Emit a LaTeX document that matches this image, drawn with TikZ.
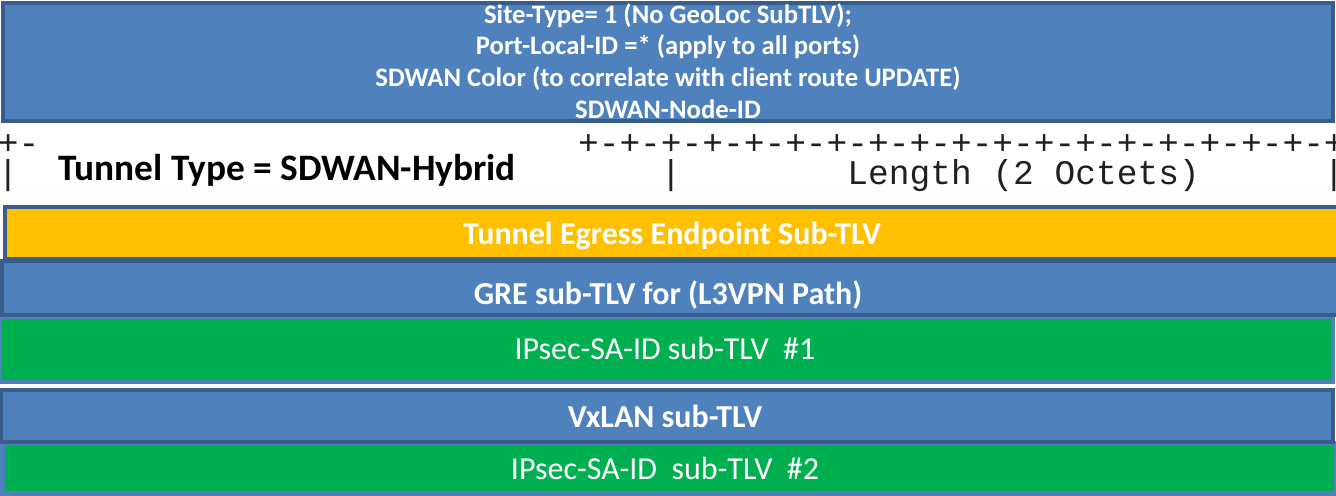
\documentclass[tikz,border=0pt]{standalone}
\usepackage{fontspec}
\setmainfont{Carlito}
\setmonofont{Liberation Mono}
\usetikzlibrary{positioning}
\definecolor{barblue}{HTML}{4F81BD}
\definecolor{bardark}{HTML}{385D8A}
\definecolor{barorange}{HTML}{FFC000}
\definecolor{bargreen}{HTML}{00B050}
\definecolor{asciiink}{HTML}{202020}
\tikzset{
    bluebar/.style = {
        draw=bardark,
        fill=barblue,
        shape=rectangle,
        line width=3.5pt,
        inner sep=0pt,
        outer sep=0pt
    },
    orangebar/.style = {
        bluebar,
        fill=barorange,
        line width=3pt
    },
    greenbar/.style = {
        draw=barblue,
        fill=bargreen,
        shape=rectangle,
        line width=3.5pt,
        inner sep=0pt,
        outer sep=0pt
    },
    bartext/.style = {
        text=white,
        inner sep=0pt,
        anchor=base,
        font=\bfseries\fontsize{24pt}{28pt}\selectfont
    },
    sitetext/.style = {
        bartext,
        font=\bfseries\fontsize{20pt}{24pt}\selectfont
    },
    ipsectext/.style = {
        bartext,
        font=\fontsize{24pt}{28pt}\selectfont
    },
    ascii/.style = {
        text=asciiink,
        inner sep=0pt,
        anchor=base west,
        font=\ttfamily\fontsize{25.9pt}{30pt}\selectfont
    },
}
\begin{document}
\begin{tikzpicture}[x=0.75pt,y=-0.75pt]
                \path[use as bounding box, fill=white] (0,0) rectangle (1336,496);

                % green sub-TLV bars go first, the blue ones overlap them
                \node[greenbar, minimum width=999.75pt, minimum height=48.75pt] (ipsec1) at (666.5,349.5) {};
                \node[greenbar, minimum width=1000.1pt, minimum height=37.9pt] (ipsec2) at (669.25,468.25) {};

                \node[bluebar, line width=3pt, minimum width=997.5pt, minimum height=88.5pt] (site) at (668,62) {};
                \node[orangebar, minimum width=999.75pt, minimum height=39pt] (egress) at (671.5,233) {};
                \node[bluebar, minimum width=1002pt, minimum height=40.5pt] (gre) at (670,288) {};
                \node[bluebar, minimum width=999pt, minimum height=39pt] (vxlan) at (667,416) {};

                \node[sitetext] (site1) at (668,23) {Site-Type= 1 (No GeoLoc SubTLV);};
                \node[sitetext] (site2) at (668,54) {Port-Local-ID =* (apply to all ports)};
                \node[sitetext] (site3) at (668,86) {SDWAN Color (to correlate with client route UPDATE)};
                \node[sitetext] (site4) at (668,118) {SDWAN-Node-ID};

                % RFC style header row
                \node[ascii] (plusa) at (-2.4,154) {+-};
                \node[ascii] (plusb) at (577.8,154) {+-+-+-+-+-+-+-+-+-+-+-+-+-+-+-+-+-+-+};
                \node[ascii, anchor=base] (bara) at (8,184) {|};
                \node[ascii, anchor=base] (barb) at (671,184) {|};
                \node[ascii, anchor=base] (barc) at (1334,184) {|};
                \node[ascii] (length) at (847.2,184) {Length (2 Octets)};
                \node[bartext, anchor=base west, text=black, font=\bfseries\fontsize{28pt}{33pt}\selectfont] (ttype) at (58,180) {Tunnel Type = SDWAN-Hybrid};

                \node[bartext] (egresstext) at (672,244) {Tunnel Egress Endpoint Sub-TLV};
                \node[bartext] (gretext) at (668,304) {GRE sub-TLV for (L3VPN Path)};
                \node[ipsectext] (ipsec1text) at (665,359) {IPsec-SA-ID sub-TLV~~\#1};
                \node[bartext] (vxlantext) at (665,427) {VxLAN sub-TLV};
                \node[ipsectext] (ipsec2text) at (665,479) {IPsec-SA-ID~~sub-TLV~~\#2};
            \end{tikzpicture}
\end{document}
